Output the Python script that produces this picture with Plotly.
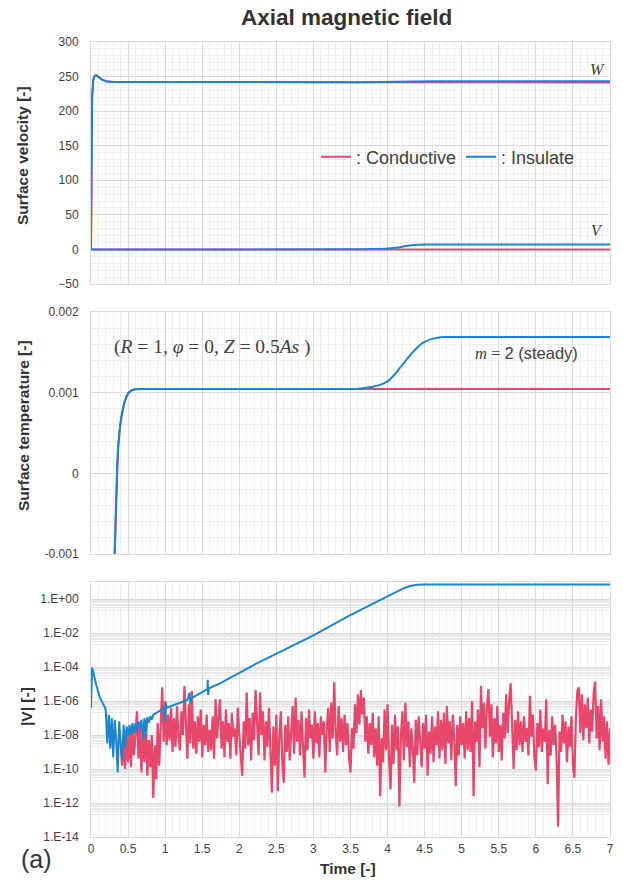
import numpy as np
import plotly.graph_objects as go

# ---------------- DATA ----------------
# Panel 1: surface velocity
t_w = [0, 0.005, 0.015, 0.03, 0.05, 0.07, 0.1, 0.15, 0.2, 0.3, 3.6, 4.0, 4.3, 4.6, 7.0]
w_cond = [0, 120, 220, 245, 251, 252, 249.5, 245.5, 243.2, 242.2, 241.8, 241.7, 241.6, 241.6, 241.6]
w_ins = [0, 120, 220, 245, 251, 252, 249.5, 245.5, 243.2, 242.2, 241.8, 242.2, 242.8, 243.2, 243.2]
t_v_cond = [0, 7.0]
v_cond = [0, 0]
t_v_ins = [0, 3.5, 3.8, 4.0, 4.1, 4.2, 4.3, 4.4, 4.5, 4.7, 7.0]
v_ins = [0, 0.1, 0.5, 1.3, 2.4, 4.0, 5.7, 6.8, 7.2, 7.3, 7.3]

# Panel 2: surface temperature
t_temp_cond = [0.25, 0.30, 0.32, 0.342, 0.364, 0.385, 0.41, 0.455, 0.5, 0.55, 0.6, 0.7, 7.0]
temp_cond = [-0.006, -0.0018, -0.001, -0.0002, 0.00029, 0.00052, 0.0007, 0.00089,
             0.00099, 0.00103, 0.001042, 0.001045, 0.001045]
t_temp_ins = [0.25, 0.30, 0.32, 0.342, 0.364, 0.385, 0.41, 0.455, 0.5, 0.55, 0.6, 0.7,
              3.5, 3.6, 3.71, 3.8, 3.9, 4.0, 4.08, 4.16, 4.23, 4.3, 4.39, 4.45, 4.5, 4.61, 4.75, 5.0, 7.0]
temp_ins = [-0.006, -0.0018, -0.001, -0.0002, 0.00029, 0.00052, 0.0007, 0.00089,
            0.00099, 0.00103, 0.001042, 0.001045,
            0.001047, 0.00105, 0.00106, 0.001074, 0.001097, 0.00114, 0.00121, 0.0013, 0.00138,
            0.00146, 0.00155, 0.0016, 0.00163, 0.00167, 0.00169, 0.00169, 0.00169]

# Panel 3: |V| (log10 values)
t_red_start, t_red_step = 0.40, 0.02
red_log10V = [
    -8.6, -9.8, -8.2, -10.0, -8.0, -9.6, -7.8, -9.9, -7.6, -9.2,
    -8.0, -6.6, -9.4, -7.4, -10.2, -7.9, -9.6, -7.1, -10.4, -8.3,
    -9.9, -8.0, -11.7, -8.6, -10.6, -7.3, -9.8, -6.9, -5.2, -8.4,
    -6.0, -8.6, -6.8, -8.3, -6.4, -9.0, -7.0, -8.7, -6.3, -8.1,
    -8.9, -6.6, -8.0, -5.1, -7.9, -9.4, -6.2, -8.5, -5.4, -8.8,
    -7.2, -9.1, -6.9, -8.4, -6.5, -9.3, -7.4, -8.6, -6.8, -9.0,
    -7.7, -8.9, -6.9, -9.4, -5.9, -8.2, -7.0, -5.9, -8.8, -7.2,
    -9.3, -6.5, -8.4, -7.3, -9.4, -6.7, -8.1, -7.6, -9.2, -6.4,
    -8.0, -9.6, -10.4, -7.2, -8.8, -5.5, -8.6, -7.0, -9.5, -6.7,
    -8.3, -5.35, -7.6, -9.2, -5.5, -8.0, -6.6, -9.5, -7.2, -8.7,
    -6.4, -9.3, -11.4, -7.5, -9.8, -6.8, -11.3, -8.1, -6.6, -9.6,
    -10.8, -7.4, -9.0, -6.9, -9.5, -7.8, -6.3, -9.1, -5.8, -8.4,
    -7.1, -9.2, -6.6, -8.7, -10.5, -7.0, -8.9, -6.5, -8.2, -7.4,
    -9.4, -6.6, -8.5, -7.3, -9.3, -6.9, -8.0, -7.2, -10.2, -7.6,
    -6.4, -9.0, -6.1, -8.2, -4.9, -7.8, -9.2, -6.3, -8.4, -7.0,
    -9.0, -6.8, -8.6, -7.3, -9.3, -10.2, -7.6, -8.8, -6.2, -7.9,
    -5.6, -7.4, -5.35, -6.8, -5.8, -8.4, -6.9, -9.1, -7.3, -8.6,
    -6.7, -9.3, -7.6, -9.8, -6.9, -11.6, -8.2, -9.6, -6.5, -8.9,
    -6.2, -9.4, -11.2, -7.4, -9.7, -6.8, -8.9, -7.5, -12.2, -8.0,
    -6.6, -9.5, -6.1, -8.7, -7.2, -9.9, -7.6, -8.8, -10.8, -7.1,
    -9.2, -6.9, -8.4, -9.9, -7.3, -8.8, -6.8, -10.4, -7.8, -9.1,
    -6.9, -9.6, -7.5, -8.6, -6.6, -9.4, -7.1, -8.9, -6.7, -9.7,
    -6.3, -8.5, -7.2, -9.5, -6.8, -8.3, -11.0, -7.4, -9.2, -6.9,
    -8.6, -7.3, -9.4, -6.6, -8.9, -7.0, -9.0, -6.0, -11.6, -7.2,
    -8.4, -6.5, -9.9, -5.1, -7.6, -6.1, -8.8, -6.4, -5.3, -8.1,
    -6.2, -9.3, -7.0, -8.5, -6.3, -9.0, -7.4, -9.5, -6.7, -8.2,
    -5.6, -7.9, -6.0, -4.95, -7.4, -10.0, -7.1, -8.9, -6.6, -8.6,
    -7.2, -9.0, -6.9, -8.4, -7.6, -9.2, -5.7, -8.1, -6.8, -9.3,
    -10.1, -7.3, -8.7, -6.5, -9.0, -7.6, -8.4, -5.9, -10.9, -7.7,
    -9.2, -6.9, -8.6, -7.4, -9.4, -13.4, -7.8, -9.0, -6.8, -8.5,
    -7.2, -9.6, -7.5, -8.7, -6.9, -9.8, -10.5, -7.0, -5.4, -5.2,
    -7.9, -5.6, -8.3, -6.2, -7.6, -5.8, -8.5, -6.5, -7.8, -5.5,
    -4.86, -8.2, -6.3, -8.9, -5.9, -8.4, -6.9, -9.4, -7.2, -9.75, -7.6,
]
t_blue = [0, 0.005, 0.015, 0.03, 0.05, 0.07, 0.09, 0.12, 0.16, 0.19,
          0.20, 0.22, 0.24, 0.26, 0.28, 0.30, 0.32, 0.34, 0.36, 0.38,
          0.40, 0.42, 0.44, 0.46, 0.48, 0.50, 0.52, 0.54, 0.56, 0.58,
          0.60, 0.62, 0.64, 0.66, 0.68, 0.70, 0.72, 0.74, 0.76, 0.78,
          0.80, 0.82, 0.84, 0.90, 0.98, 1.0, 1.01, 1.02, 1.30, 1.33,
          1.34, 1.35, 1.57, 1.575, 1.58, 1.59, 1.74, 2.23, 3.0, 3.49,
          3.98, 4.1, 4.2, 4.3, 4.4, 4.5, 4.7, 7.0]
blue_log10V = [-6.4, -4.6, -4.05, -4.3, -4.75, -5.05, -5.35, -5.8, -6.14, -6.4,
               -6.6, -8.5, -6.8, -8.8, -7.0, -9.3, -7.1, -8.3, -10.2, -7.2,
               -8.5, -9.5, -7.4, -8.7, -7.5, -8.1, -7.4, -8.0, -7.3, -7.9,
               -7.3, -7.8, -7.2, -7.6, -7.1, -8.3, -7.0, -8.1, -6.95, -7.3,
               -6.9, -7.1, -6.8, -6.65, -6.45, -7.2, -6.1, -6.4, -5.94, -5.5,
               -6.2, -5.85, -5.3, -4.75, -5.65, -5.25, -4.96, -3.8, -2.14, -0.96,
               0.1, 0.38, 0.6, 0.76, 0.84, 0.86, 0.86, 0.86]

x_tick_vals = [0, 0.5, 1, 1.5, 2, 2.5, 3, 3.5, 4, 4.5, 5, 5.5, 6, 6.5, 7]
x_tick_text = ["0", "0.5", "1", "1.5", "2", "2.5", "3", "3.5", "4", "4.5", "5", "5.5", "6", "6.5", "7"]
y1_ticks = [-50, 0, 50, 100, 150, 200, 250, 300]
y2_tick_vals = [-0.001, 0, 0.001, 0.002]
y2_tick_text = ["-0.001", "0", "0.001", "0.002"]
y3_exponents = [0, -2, -4, -6, -8, -10, -12, -14]
y3_tick_text = ["1.E+00", "1.E-02", "1.E-04", "1.E-06", "1.E-08", "1.E-10", "1.E-12", "1.E-14"]

# ---------------- STYLE ----------------
RED = "#E6476A"
BLUE = "#1B86D0"
GRID = "#d9d9d9"
MINOR = "#eeeeee"
TXT = "#404040"
TITLE = "#333333"
FONT = "Liberation Sans, Arial, sans-serif"
SERIF = "Liberation Serif, serif"

red_t = [round(t_red_start + t_red_step * i, 4) for i in range(len(red_log10V))]
red_V = [10 ** v for v in red_log10V]
blue_V = [10 ** v for v in blue_log10V]

fig = go.Figure()
# panel 1
fig.add_trace(go.Scatter(x=t_w, y=w_cond, mode="lines", line=dict(color=RED, width=2),
                         name=": Conductive", legendgroup="c", showlegend=True, xaxis="x", yaxis="y"))
fig.add_trace(go.Scatter(x=t_v_cond, y=v_cond, mode="lines", line=dict(color=RED, width=2),
                         name=": Conductive", legendgroup="c", showlegend=False, xaxis="x", yaxis="y"))
fig.add_trace(go.Scatter(x=t_w, y=w_ins, mode="lines", line=dict(color=BLUE, width=2),
                         name=": Insulate", legendgroup="i", showlegend=True, xaxis="x", yaxis="y"))
fig.add_trace(go.Scatter(x=t_v_ins, y=v_ins, mode="lines", line=dict(color=BLUE, width=2, shape="spline", smoothing=0.6),
                         name=": Insulate", legendgroup="i", showlegend=False, xaxis="x", yaxis="y"))
# panel 2
fig.add_trace(go.Scatter(x=t_temp_cond, y=temp_cond, mode="lines", line=dict(color=RED, width=2),
                         showlegend=False, xaxis="x2", yaxis="y2"))
fig.add_trace(go.Scatter(x=t_temp_ins, y=temp_ins, mode="lines",
                         line=dict(color=BLUE, width=2, shape="spline", smoothing=0.8),
                         showlegend=False, xaxis="x2", yaxis="y2"))
# panel 3
fig.add_trace(go.Scatter(x=red_t, y=red_V, mode="lines", line=dict(color=RED, width=2.2),
                         showlegend=False, xaxis="x3", yaxis="y3"))
fig.add_trace(go.Scatter(x=t_blue, y=blue_V, mode="lines", line=dict(color=BLUE, width=2),
                         showlegend=False, xaxis="x3", yaxis="y3"))

tickfont = dict(family=FONT, size=12, color=TXT)


def xaxis_def(anchor, show):
    return dict(domain=[0, 1], anchor=anchor, range=[0, 7], tickmode="array",
                tickvals=x_tick_vals, ticktext=x_tick_text, showticklabels=show,
                showgrid=True, gridcolor=GRID, gridwidth=1, zeroline=False,
                showline=True, linecolor=GRID, mirror=True, automargin=False,
                minor=dict(dtick=0.1, showgrid=True, gridcolor=MINOR, gridwidth=1),
                tickfont=tickfont, ticks="", ticklabelstandoff=1)


def yaxis_common():
    return dict(showgrid=True, gridcolor=GRID, zeroline=False, showline=True, linecolor=GRID,
                mirror=True, automargin=False, tickfont=tickfont, ticks="", ticklabelstandoff=9)


d1 = [(837 - 284) / 795, 1.0]
d2 = [(837 - 554) / 795, (837 - 312) / 795]
d3 = [0.0, (837 - 582) / 795]

# minor grid lines: m*10^k for odd k (band just below each labelled decade)
minor3 = [m * 10.0 ** k for k in range(-13, 0, 2) for m in range(2, 10)]

fig.update_layout(
    width=623, height=881,
    margin=dict(l=91, r=13, t=42, b=44, autoexpand=False),
    paper_bgcolor="white", plot_bgcolor="white",
    font=dict(family=FONT, color=TXT),
    xaxis=xaxis_def("y", False),
    xaxis2=xaxis_def("y2", False),
    xaxis3=xaxis_def("y3", True),
    yaxis=dict(domain=d1, anchor="x", range=[-50, 300], tickmode="array", tickvals=y1_ticks,
               minor=dict(dtick=10, showgrid=True, gridcolor=MINOR), **yaxis_common()),
    yaxis2=dict(domain=d2, anchor="x2", range=[-0.001, 0.002], tickmode="array", tickvals=y2_tick_vals,
                ticktext=y2_tick_text,
                minor=dict(dtick=0.0002, showgrid=True, gridcolor=MINOR), **yaxis_common()),
    yaxis3=dict(domain=d3, anchor="x3", type="log", range=[-14, 1], tickmode="array",
                tickvals=[10.0 ** e for e in y3_exponents], ticktext=y3_tick_text,
                minor=dict(tickmode="array", tickvals=minor3, showgrid=True, gridcolor="#e9e9e9"),
                **yaxis_common()),
    legend=dict(orientation="h", x=(316 - 91) / 519, xanchor="left", y=(837 - 157) / 795, yanchor="middle",
                font=dict(family=FONT, size=18, color=TXT), bgcolor="rgba(255,255,255,0)",
                itemwidth=30, tracegroupgap=0),
    showlegend=True,
)


def px_x(px):
    return (px - 91) / 519


def px_y(py):
    return (837 - py) / 795


ann = [
    dict(text="<b>Axial magnetic field</b>", x=px_x(346), y=px_y(17),
         font=dict(family=FONT, size=22.5, color=TITLE)),
    dict(text="<b>Surface velocity [-]</b>", x=px_x(23), y=px_y(156),
         textangle=-90, font=dict(family=FONT, size=15.5, color=TITLE)),
    dict(text="<b>Surface temperature [-]</b>", x=px_x(23), y=px_y(426),
         textangle=-90, font=dict(family=FONT, size=15.5, color=TITLE)),
    dict(text="<b>|V| [-]</b>", x=px_x(26), y=px_y(707),
         textangle=-90, font=dict(family=FONT, size=15.5, color=TITLE)),
    dict(text="<b>Time [-]</b>", x=px_x(348), y=px_y(868),
         font=dict(family=FONT, size=15.5, color=TITLE)),
    dict(text="(a)", x=px_x(36), y=px_y(859),
         font=dict(family=FONT, size=25, color=TITLE)),
    dict(text="<i>W</i>", x=px_x(597), y=px_y(69),
         font=dict(family=SERIF, size=16, color=TXT)),
    dict(text="<i>V</i>", x=px_x(597), y=px_y(231),
         font=dict(family=SERIF, size=16, color=TXT)),
    dict(text="(<i>R</i> = 1, <i>φ</i> = 0, <i>Z</i> = 0.5<i>As</i> )", x=px_x(212), y=px_y(347),
         font=dict(family=SERIF, size=19.5, color=TXT)),
    dict(text="<span style=\"font-family:'Liberation Serif'\"><i>m</i> = </span>2 (steady)",
         x=px_x(526), y=px_y(353), font=dict(family=FONT, size=16.5, color=TXT)),
]
for a in ann:
    a.update(xref="paper", yref="paper", xanchor="center", yanchor="middle", showarrow=False)
fig.update_layout(annotations=ann)

fig.write_html("out.html", config={"displayModeBar": False},
               post_script="document.body.style.margin='0';document.body.style.overflow='hidden';")
